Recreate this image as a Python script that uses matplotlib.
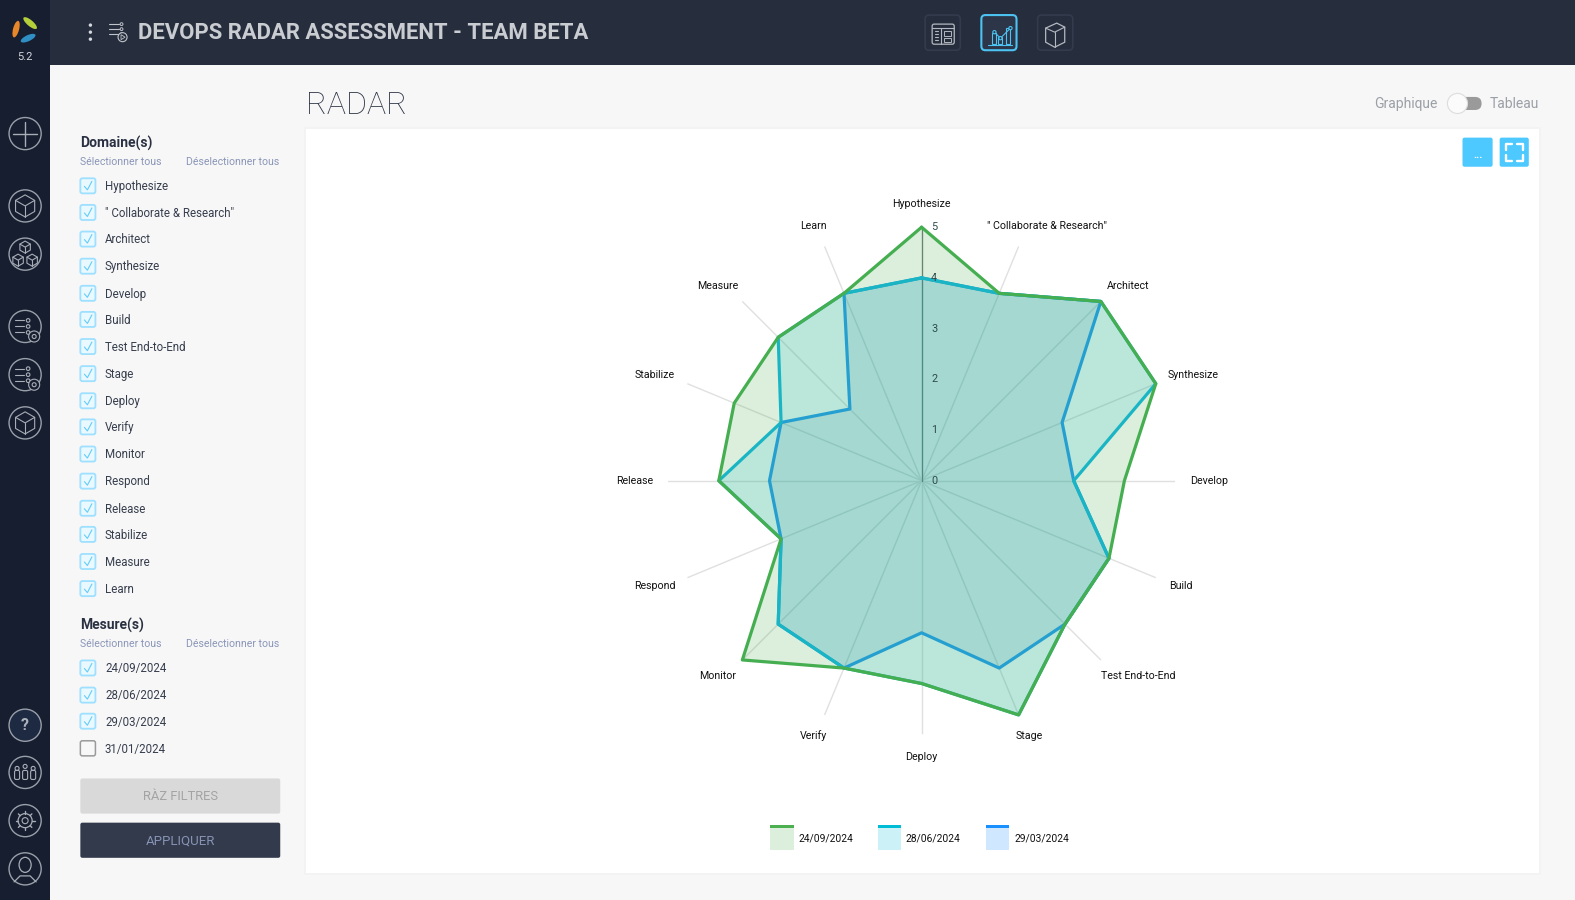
import numpy as np
import matplotlib
matplotlib.use("Agg")
import matplotlib.pyplot as plt
from matplotlib.patches import FancyBboxPatch, Rectangle, Circle, Ellipse, Polygon as MPoly

FONT = ['Roboto', 'DejaVu Sans']
plt.rcParams['font.family'] = FONT

# ---------- data ----------
categories = ['Hypothesize', '" Collaborate & Research"', 'Architect', 'Synthesize', 'Develop',
              'Build', 'Test End-to-End', 'Stage', 'Deploy', 'Verify', 'Monitor', 'Respond',
              'Release', 'Stabilize', 'Measure', 'Learn']
series_names = ['24/09/2024', '28/06/2024', '29/03/2024']
values_2409 = [5, 4, 5, 5, 4, 4, 4, 5, 4, 4, 5, 3, 4, 4, 4, 4]
values_2806 = [4, 4, 5, 5, 3, 4, 4, 5, 4, 4, 4, 3, 4, 3, 4, 4]
values_2903 = [4, 4, 5, 3, 3, 4, 4, 4, 3, 4, 4, 3, 3, 3, 2, 4]
radial_ticks = [0, 1, 2, 3, 4, 5]
measure_names = ['24/09/2024', '28/06/2024', '29/03/2024', '31/01/2024']
title = 'DEVOPS RADAR ASSESSMENT - TEAM BETA'

GREEN, TEAL, BLUE = '#4CAF50', '#00BCD4', '#1890FF'
LINE_GREEN, LINE_TEAL, LINE_BLUE = '#45ae50', '#1ab5c4', '#259fd0'
FILL_BLUE = '#107a9a'
W, H = 1568.0, 896.0   # layout units of the screenshot

fig = plt.figure(figsize=(15.75, 9), dpi=100, facecolor='#f7f7f7')
ui = fig.add_axes([0, 0, 1, 1])
ui.set_xlim(0, W); ui.set_ylim(H, 0); ui.axis('off')

def rect(x, y, w, h, fc, ec='none', lw=0, r=0, z=1, alpha=None):
    if r:
        p = FancyBboxPatch((x, y), w, h, boxstyle=f'round,pad=0,rounding_size={r}', fc=fc, ec=ec, lw=lw, zorder=z, alpha=alpha)
    else:
        p = Rectangle((x, y), w, h, fc=fc, ec=ec, lw=lw, zorder=z, alpha=alpha)
    ui.add_patch(p)

ICON = '#a8adb6'
def seg(xs, ys, c=ICON, lw=0.8, z=5):
    ui.plot(xs, ys, color=c, lw=lw, zorder=z, solid_capstyle='round')

def circ(x, y, r, fc='none', ec=ICON, lw=0.8, z=5):
    ui.add_patch(Circle((x, y), r, fc=fc, ec=ec, lw=lw, zorder=z))

def cube(x, y, s, c=ICON, lw=0.8):
    """isometric box glyph"""
    a = np.radians([90, 30, -30, -90, -150, 150])
    px, py = x + s * np.cos(a), y - s * np.sin(a)
    ui.add_patch(MPoly(np.c_[px, py], fc='none', ec=c, lw=lw, zorder=5, joinstyle='round'))
    seg([px[5], x, px[1]], [py[5], y, py[1]], c, lw)
    seg([x, x], [y, py[3]], c, lw)

def txt(x, y, s, size=9, c='#2a3142', ha='left', weight='normal', fam=None):
    ui.text(x, y, s, fontsize=size, color=c, ha=ha, va='center', weight=weight,
            family=fam if fam else FONT, zorder=6)

# page chrome
rect(0, 0, 50, H, '#161e2f', z=2)
rect(50, 0, W - 50, 64.5, '#262d3d', z=2)
rect(303, 126, 1231, 745, '#f3f3f3', z=1)
rect(305, 128, 1227, 741, 'white', z=1)

# logo
ui.add_patch(Ellipse((16, 29), 6, 17, angle=15, fc='#e8862a', zorder=5))
ui.add_patch(Ellipse((30, 23), 6, 17, angle=-50, fc='#b5cf3a', zorder=5))
ui.add_patch(Ellipse((28, 38), 6, 16, angle=65, fc='#2f8fc4', zorder=5))
txt(25, 57, '5.2', 8, '#d5d8dd', 'center')

# sidebar icons
icon_ys = [133, 205, 253, 325, 373, 421, 722, 769, 817, 865]
for y in icon_ys:
    circ(25, y, 16, ec='#9aa0aa', lw=1.0)
seg([13, 37], [133, 133], lw=1); seg([25, 25], [121, 145], lw=1)
cube(25, 205, 11)
cube(25, 246, 6); cube(18, 259, 6); cube(32, 259, 6)
for y in (325, 373):
    for k in range(3):
        seg([15, 24], [y - 6 + 6 * k, y - 6 + 6 * k])
        circ(28, y - 6 + 6 * k, 1.8)
    circ(34, y + 10, 5.5, fc='#161e2f', z=6)
    circ(34, y + 10, 2, z=7)
cube(25, 421, 11)
txt(25, 722, '?', 11.5, '#aeb3bb', 'center', 'bold')
circ(25, 722, 15.5, fc='#1e2a42', ec='none', z=4)
for dx in (-8, 0, 8):
    circ(25 + dx, 763 if dx == 0 else 765, 2)
    rect(25 + dx - 2.5, 767, 5, 9, 'none', ICON, 0.8, 1.5, 5)
circ(25, 817, 7, lw=0.9); circ(25, 817, 3)
for a in np.arange(0, 360, 45):
    r = np.radians(a)
    seg([25 + 7 * np.cos(r), 25 + 9.5 * np.cos(r)], [817 + 7 * np.sin(r), 817 + 9.5 * np.sin(r)], lw=1.0)
ui.add_patch(Ellipse((25, 861), 12, 15, fc='none', ec=ICON, lw=0.9, zorder=5))
seg([14, 20, 30, 36], [878, 872, 872, 878], lw=0.9)

# top bar
for y in (25, 32, 39):
    circ(90, y, 1.7, fc='#d5d8dd', ec='none')
for k in range(3):
    seg([109, 118], [24 + 5 * k, 24 + 5 * k], '#c0c4ca')
    circ(121, 24 + 5 * k, 1.4, ec='#c0c4ca', lw=0.7)
circ(122, 37, 4.5, fc='#262d3d', ec='#c0c4ca', z=6)
ui.add_patch(MPoly([[120.5, 34.5], [120.5, 39.5], [124.5, 37]], fc='none', ec='#c0c4ca', lw=0.6, zorder=7))
txt(137, 33, title, 15.9, '#c9ccd1', weight='bold')

rect(921, 15, 35, 35, 'none', '#333b4c', 1.2, 4, 4)
rect(977, 15, 35, 35, '#2c3648', '#4cc3f2', 1.5, 4, 4)
rect(1033, 15, 35, 35, 'none', '#333b4c', 1.2, 4, 4)
rect(928, 24, 22, 20, 'none', '#b4b8c0', 0.9, 2, 5)
seg([928, 950], [28, 28], '#b4b8c0'); seg([937, 937], [28, 44], '#b4b8c0')
rect(940, 31, 7, 5, 'none', '#b4b8c0', 0.7, z=5); rect(940, 38, 7, 4, 'none', '#b4b8c0', 0.7, z=5)
for y in (31, 34, 37, 40):
    seg([931, 934], [y, y], '#b4b8c0')
for x, h in ((988, 11), (994, 7), (1002, 16)):
    rect(x, 44 - h, 4, h, 'none', '#4cc3f2', 0.8, z=5)
seg([984, 1008], [44.5, 44.5], '#4cc3f2')
seg([990, 996, 1006], [32, 38, 28], '#4cc3f2')
circ(990, 32, 1.6, fc='#2c3648', ec='#4cc3f2', z=6); circ(996, 38, 1.6, fc='#2c3648', ec='#4cc3f2', z=6); circ(1006, 28, 1.6, fc='#2c3648', ec='#4cc3f2', z=6)
ui.add_patch(MPoly([[1041, 28], [1052, 23], [1060, 27], [1060, 42], [1050, 47], [1041, 42]],
                   fc='none', ec='#b4b8c0', lw=0.9, zorder=5))
seg([1041, 1050, 1060], [28, 32, 27], '#b4b8c0'); seg([1050, 1050], [32, 47], '#b4b8c0')

# heading
txt(305, 105, 'RADAR', 23, '#2a3142', weight='light')
txt(1431, 104, 'Graphique', 10, '#9b9fa6', 'right')
txt(1532, 104, 'Tableau', 10, '#9b9fa6', 'right')
rect(1448, 96.5, 27, 13, '#9a9a9a', r=6.5, z=4)
circ(1451, 103, 10, fc='#fbfbfb', ec='#dddddd')
rect(1456, 137, 30, 29, '#4dc9ff', r=2, z=4)
txt(1471, 154, '...', 8, 'white', 'center', 'bold')
rect(1493, 137, 29, 29, '#4dc9ff', r=2, z=4)
for bx, by, ox, oy in ((1499, 143, 1, 1), (1516, 143, -1, 1), (1499, 160, 1, -1), (1516, 160, -1, -1)):
    seg([bx + 6 * ox, bx, bx], [by, by, by + 6 * oy], 'white', 1.7)

# filter panel
def checkbox(y, label, checked=True):
    if checked:
        rect(80, y - 7.5, 15, 15, '#eaf8ff', '#9ee0ff', 1.3, 2, 4)
        seg([84, 87, 91.5], [y + 0.5, y + 4, y - 4.5], '#63cdfa', 0.8)
    else:
        rect(80, y - 7.5, 15, 15, '#f7f7f7', '#9a9a9a', 1.1, 2, 4)
    txt(104.5, y + 0.8, label, 8.3, '#373e4d')

txt(79.5, 143, 'Domaine(s)', 10, '#2a3142', weight='bold')
txt(80, 161, 'Sélectionner tous', 7.6, '#8a96b8')
txt(185, 161, 'Déselectionner tous', 7.6, '#8a96b8')
row_ys = [185, 211.5, 238, 265, 292, 318, 345, 372, 399, 425, 452, 479, 506, 532, 559, 586]
for y, c in zip(row_ys, categories):
    checkbox(y, c)
txt(79.5, 623, 'Mesure(s)', 10, '#2a3142', weight='bold')
txt(80, 641.5, 'Sélectionner tous', 7.6, '#8a96b8')
txt(185, 641.5, 'Déselectionner tous', 7.6, '#8a96b8')
for y, m, chk in zip([665, 692, 718, 745], measure_names, [True, True, True, False]):
    checkbox(y, m, chk)
rect(80, 775, 199, 35, '#d9d9d9', r=2, z=3)
txt(179.5, 793, 'RÀZ FILTRES', 9.3, '#a3a3a3', 'center')
rect(80, 819, 199, 35, '#333a4b', r=2, z=3)
txt(179.5, 837, 'APPLIQUER', 9.5, '#8693b5', 'center')

# legend
for x, name, col in ((767, series_names[0], GREEN), (874, series_names[1], TEAL), (982, series_names[2], BLUE)):
    rect(x, 823, 23, 23, col, z=4, alpha=0.2)
    rect(x, 821.5, 23, 3, col, z=5)
    txt(x + 27.5, 834.5, name, 7.4, '#111111')

# ---------- radar ----------
sx, sy = 1575 / W, 900 / H
cx, cy = 921.6, 480.7
R = 253.5
ax = fig.add_axes([(cx - R) / 1575, (900 - cy - R) / 900, 2 * R / 1575, 2 * R / 900], projection='polar')
ax.patch.set_alpha(0)
ax.set_theta_zero_location('N'); ax.set_theta_direction(-1)
theta = np.linspace(0, 2 * np.pi, len(categories), endpoint=False)

ax.set_axisbelow(True)
ax.set_xticks(theta); ax.set_xticklabels([''] * len(theta))
ax.set_yticks(radial_ticks); ax.set_yticklabels([])
ax.set_ylim(0, radial_ticks[-1])
ax.tick_params(axis='y', length=0)
ax.grid(False, axis='y')
ax.grid(True, axis='x', color='#e0e0e0', lw=1.0)
ax.spines['polar'].set_visible(False)
ax.plot([0, 0], [radial_ticks[0], radial_ticks[-1]], color='#6f7a7a', lw=0.9, zorder=0.9)

def close(v):
    return list(v) + [v[0]]
t_c = np.r_[theta, theta[0]]

ax.fill(t_c, close(values_2409), color=GREEN, alpha=0.2, lw=0, zorder=1)
ax.fill(t_c, close(values_2806), color=TEAL, alpha=0.15, lw=0, zorder=1.1)
ax.fill(t_c, close(values_2903), color=FILL_BLUE, alpha=0.13, lw=0, zorder=1.2)

style = dict(lw=2.3, clip_on=False, solid_joinstyle='round', solid_capstyle='round')
ax.plot(t_c, close(values_2903), color=LINE_BLUE, zorder=5, **style)
ax.plot(t_c, close(values_2806), color=LINE_TEAL, zorder=5.1, **style)
ax.plot(t_c, close(values_2409), color=LINE_GREEN, zorder=5.3, **style)

for t in radial_ticks:
    ax.annotate(str(t), xy=(0, t), xytext=(12.5, 0), textcoords='offset pixels', ha='center', va='center',
                fontsize=7.8, color='#2f4a4a', annotation_clip=False, zorder=6)

label_offsets = [(0, 275), (125, 254), (206, 194), (270, 105), (286, 0), (258, -105), (216, -194),
                 (107, -254), (0, -275), (-108, -254), (-203, -194), (-266, -105), (-286, 0),
                 (-266, 105), (-203, 194), (-108, 254)]
for c, (dx, dy) in zip(categories, label_offsets):
    ax.annotate(c, xy=(0, 0), xytext=(dx * sx, dy * sy), textcoords='offset pixels',
                ha='center', va='center', fontsize=7.7, color='#111111', annotation_clip=False)

fig.savefig('out.png', dpi=100, facecolor=fig.get_facecolor())
